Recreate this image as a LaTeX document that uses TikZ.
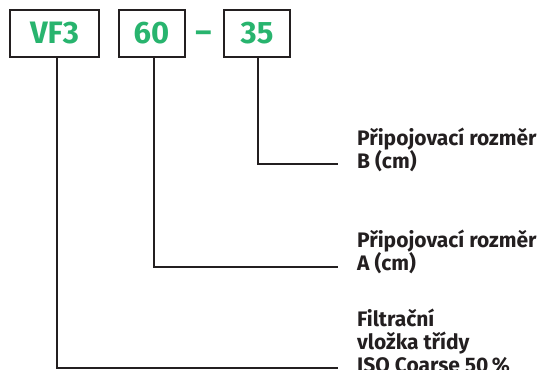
\documentclass[tikz,border=0pt]{standalone}
\usepackage{fontspec}
\setmainfont{Fira Sans}
\usepackage{tikz}
\usetikzlibrary{positioning}
\definecolor{vfgreen}{RGB}{40,180,110}
\definecolor{vfdark}{RGB}{35,31,32}

\begin{document}
\begin{tikzpicture}[x=1pt,y=-1pt,
    codebox/.style={draw=vfdark,line width=2pt,minimum height=47pt,inner sep=0pt,
      text=vfgreen,font=\fontsize{31}{33}\selectfont\bfseries},
    leader/.style={vfdark,line width=2pt},
    label/.style={anchor=base west,align=left,inner sep=0pt,text=vfdark,
      font=\fontsize{21}{23}\selectfont\bfseries}]
      \useasboundingbox (0,0) rectangle (539,370);
      \node[codebox,minimum width=89pt] (vf) at (54.5,33.5) {VF3\hspace{10pt}};
      \node[codebox,minimum width=66pt] (sa) at (151.5,33.5) {60};
      \node[codebox,minimum width=66pt] (sb) at (257,33.5) {35};
      \node[text=vfgreen,font=\fontsize{31}{33}\selectfont\bfseries,inner sep=0pt] (dash) at (203.5,37) {--};
      \coordinate (endB) at (338,164);
      \coordinate (endA) at (338,267);
      \coordinate (endF) at (338,368);
      \draw[leader] ([xshift=1pt]sb.south) |- (endB);
      \draw[leader] ([xshift=2pt]sa.south) |- (endA);
      \draw[leader] ([xshift=2.5pt]vf.south) |- (endF);
      \node[label] (lblB) at (357,168) {Připojovací rozměr\\B (cm)};
      \node[label] (lblA) at (357,270) {Připojovací rozměr\\A (cm)};
      \node[label] (lblF) at (357,372) {Filtrační\\vložka třídy\\ISO Coarse 50\,\%};
    \end{tikzpicture}
\end{document}
